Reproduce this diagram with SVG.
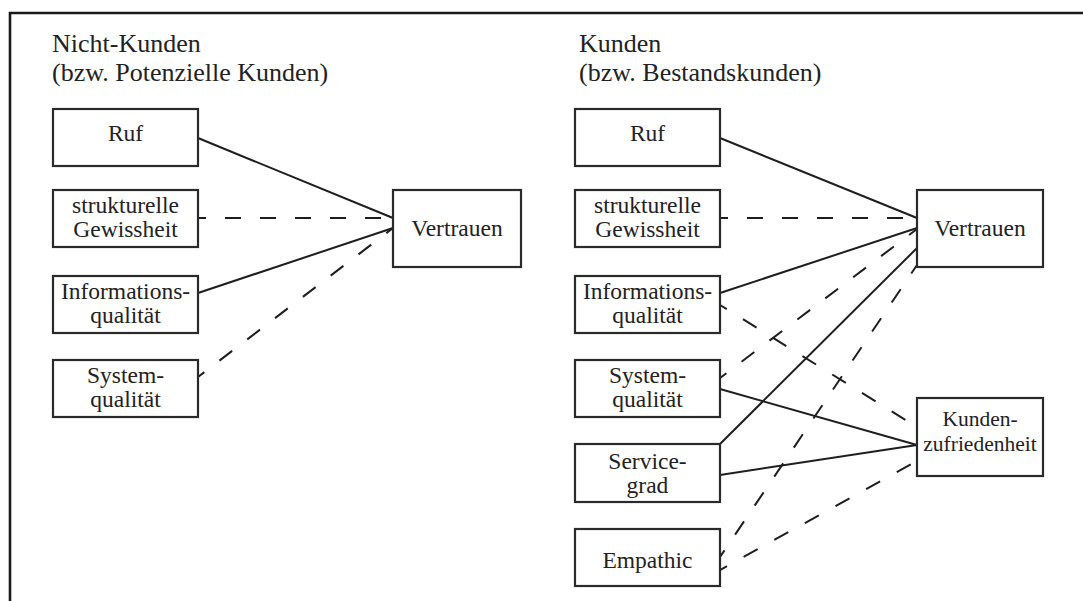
<svg xmlns="http://www.w3.org/2000/svg" width="1083" height="601" viewBox="0 0 1083 601">
<style>
.bg{fill:#fff}
.frame{fill:none;stroke:#1a1a1a;stroke-width:2.6}
.box{fill:#fff;stroke:#2a2a2a;stroke-width:2.2}
.t{font-family:'Liberation Serif','DejaVu Serif',serif;font-size:23.5px;fill:#222;text-anchor:middle}
.ts{font-size:21.5px}
.title{font-family:'Liberation Serif','DejaVu Serif',serif;font-size:26px;fill:#222}
.c{fill:none;stroke:#1e1e1e;stroke-width:2}
.d{stroke-dasharray:16 19}
</style>
<rect class="bg" x="0" y="0" width="1083" height="601"/>
<path class="frame" d="M10,601 V13 H1083"/>

<g id="titles" font-family="Liberation Serif, DejaVu Serif, serif">
<text class="title" x="52" y="52">Nicht-Kunden</text>
<text class="title" x="52" y="81">(bzw. Potenzielle Kunden)</text>
<text class="title" x="579" y="52">Kunden</text>
<text class="title" x="579" y="81">(bzw. Bestandskunden)</text>
</g>

<g id="connectors">
<line class="c" x1="198" y1="138" x2="393" y2="218"/>
<line class="c d" x1="198" y1="218" x2="393" y2="218" stroke-dashoffset="8"/>
<line class="c" x1="198" y1="293" x2="393" y2="228"/>
<line class="c d" x1="198" y1="377" x2="393" y2="228" stroke-dashoffset="8"/>

<line class="c" x1="720" y1="138" x2="917" y2="218"/>
<line class="c d" x1="720" y1="218" x2="917" y2="218" stroke-dashoffset="8"/>
<line class="c" x1="720" y1="293" x2="917" y2="228"/>
<line class="c d" x1="720" y1="305" x2="917" y2="427" stroke-dashoffset="8"/>
<line class="c d" x1="720" y1="378" x2="917" y2="229" stroke-dashoffset="8"/>
<line class="c" x1="720" y1="389" x2="917" y2="445"/>
<line class="c" x1="720" y1="444" x2="917" y2="248"/>
<line class="c" x1="720" y1="475" x2="917" y2="445"/>
<line class="c d" x1="720" y1="557" x2="917" y2="265" stroke-dashoffset="8"/>
<line class="c d" x1="720" y1="570" x2="917" y2="461" stroke-dashoffset="8"/>
</g>

<g id="l-ruf"><rect class="box" x="53" y="109" width="145" height="57"/><text class="t" x="125.5" y="141">Ruf</text></g>
<g id="l-struk"><rect class="box" x="53" y="190" width="145" height="57"/><text class="t" x="125.5" y="213">strukturelle</text><text class="t" x="125.5" y="237">Gewissheit</text></g>
<g id="l-info"><rect class="box" x="53" y="276" width="145" height="57"/><text class="t" x="125.5" y="299">Informations-</text><text class="t" x="125.5" y="323">qualität</text></g>
<g id="l-sys"><rect class="box" x="53" y="360" width="145" height="57"/><text class="t" x="125.5" y="383">System-</text><text class="t" x="125.5" y="407">qualität</text></g>
<g id="l-vertrauen"><rect class="box" x="393" y="190" width="128" height="77"/><text class="t" x="457" y="236">Vertrauen</text></g>

<g id="r-ruf"><rect class="box" x="575" y="109" width="145" height="57"/><text class="t" x="647.5" y="141">Ruf</text></g>
<g id="r-struk"><rect class="box" x="575" y="190" width="145" height="57"/><text class="t" x="647.5" y="213">strukturelle</text><text class="t" x="647.5" y="237">Gewissheit</text></g>
<g id="r-info"><rect class="box" x="575" y="276" width="145" height="57"/><text class="t" x="647.5" y="299">Informations-</text><text class="t" x="647.5" y="323">qualität</text></g>
<g id="r-sys"><rect class="box" x="575" y="360" width="145" height="57"/><text class="t" x="647.5" y="383">System-</text><text class="t" x="647.5" y="407">qualität</text></g>
<g id="r-service"><rect class="box" x="575" y="444" width="145" height="58"/><text class="t" x="647.5" y="469">Service-</text><text class="t" x="647.5" y="493">grad</text></g>
<g id="r-empathie"><rect class="box" x="575" y="529" width="145" height="57"/><text class="t" x="647.5" y="568">Empathic</text></g>
<g id="r-vertrauen"><rect class="box" x="917" y="190" width="126" height="77"/><text class="t" x="980" y="236">Vertrauen</text></g>
<g id="r-kz"><rect class="box" x="917" y="398" width="126" height="78"/><text class="t ts" x="980" y="426">Kunden-</text><text class="t ts" x="980" y="451">zufriedenheit</text></g>
</svg>
